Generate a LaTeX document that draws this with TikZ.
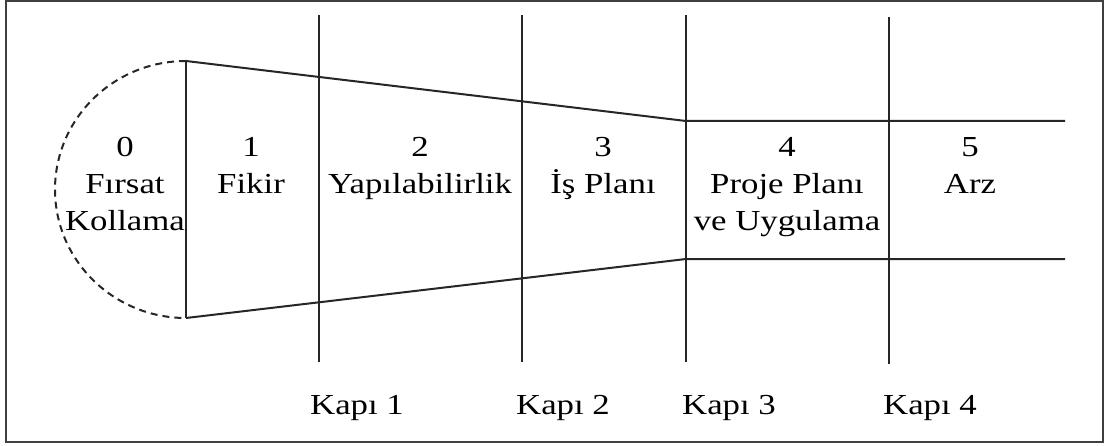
\documentclass[tikz,border=0pt]{standalone}
\usepackage{fontspec}
\setmainfont{Liberation Serif}[FakeStretch=1.2]
\begin{document}
\begin{tikzpicture}[x=1pt,y=-1pt,
  line/.style={line width=2pt,draw=black!85},
  frame/.style={line width=1.8pt,draw=black!75},
  stage/.style={font=\fontsize{29}{37}\selectfont,align=center,anchor=base,inner sep=0pt},
  gate/.style={font=\fontsize{29}{37}\selectfont,anchor=base,inner sep=0pt}]
\useasboundingbox (0,0) rectangle (1110,446);
\draw[frame] (6,1) rectangle (1103,442);

% funnel outline
\coordinate (ftl) at (186,61);
\coordinate (fbl) at (186,318);
\coordinate (ftr) at (686,121);
\coordinate (fbr) at (686,259);
\coordinate (etr) at (1065,121);
\coordinate (ebr) at (1065,259);
\draw[line] (ftl) -- (fbl);
\draw[line] (ftl) -- (ftr) -- (etr);
\draw[line] (fbl) -- (fbr) -- (ebr);
\draw[line,dash pattern=on 7pt off 5pt]
  (ftl) arc[start angle=-90,end angle=-270,x radius=131,y radius=128.5];

% gates
\coordinate (g1t) at (319,15);  \coordinate (g1b) at (319,362);
\coordinate (g2t) at (522,15);  \coordinate (g2b) at (522,362);
\coordinate (g3t) at (686,15);  \coordinate (g3b) at (686,362);
\coordinate (g4t) at (889,17);  \coordinate (g4b) at (889,364);
\draw[line] (g1t) -- (g1b);
\draw[line] (g2t) -- (g2b);
\draw[line] (g3t) -- (g3b);
\draw[line] (g4t) -- (g4b);

% stages (anchored at the baseline of the last line)
\node[stage] (s0) at (125,231) {0\\Fırsat\\Kollama};
\node[stage] (s1) at (251,194) {1\\Fikir};
\node[stage] (s2) at (420,194) {2\\Yapılabilirlik};
\node[stage] (s3) at (603,194) {3\\İş Planı};
\node[stage] (s4) at (787,231) {4\\Proje Planı\\ve Uygulama};
\node[stage] (s5) at (970,194) {5\\Arz};

% gate labels
\node[gate] (k1) at (357,414) {Kapı 1};
\node[gate] (k2) at (563,414) {Kapı 2};
\node[gate] (k3) at (729,414) {Kapı 3};
\node[gate] (k4) at (930,414) {Kapı 4};
\end{tikzpicture}
\end{document}
